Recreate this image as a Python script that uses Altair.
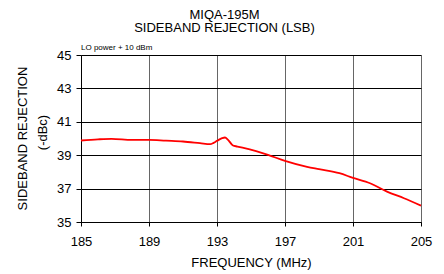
import altair as alt
import pandas as pd

freq = [185, 186, 186.8, 188, 189, 190, 191, 192, 192.6, 192.8, 193.0, 193.3, 193.47, 193.65, 193.94, 194.2,
        194.5, 195.3, 196, 197, 198.3, 199, 200.2, 201, 202, 203, 204, 205]
rej = [39.88, 39.95, 39.98, 39.92, 39.92, 39.87, 39.82, 39.72, 39.66, 39.74, 39.86, 40.02, 40.06, 39.92, 39.58, 39.52,
       39.45, 39.24, 39.02, 38.66, 38.3, 38.16, 37.92, 37.64, 37.32, 36.82, 36.42, 35.98]

x_ticks = [185, 189, 193, 197, 201, 205]
y_ticks = [35, 37, 39, 41, 43, 45]

title_lines = ["MIQA-195M", "SIDEBAND REJECTION (LSB)"]
note = "LO power + 10 dBm"
y_title_lines = ["SIDEBAND REJECTION", "(-dBc)"]
x_title = "FREQUENCY (MHz)"

FONT = "Liberation Sans"
df = pd.DataFrame({"freq": freq, "rej": rej})

line = alt.Chart(df).mark_line(color="#ff0000", strokeWidth=1.8, interpolate="monotone").encode(
    x=alt.X("freq:Q", scale=alt.Scale(domain=[185, 205], nice=False, zero=False),
            axis=alt.Axis(values=x_ticks, title=x_title, titleFont=FONT, titleFontSize=13,
                          titleFontWeight="normal", titleColor="black", titlePadding=8,
                          labelFont=FONT, labelFontSize=13, labelColor="black", labelPadding=9,
                          tickSize=4, tickColor="black", domainColor="black",
                          gridColor="#666666", gridWidth=1, labelFlush=False)),
    y=alt.Y("rej:Q", scale=alt.Scale(domain=[35, 45], nice=False, zero=False),
            axis=alt.Axis(values=y_ticks, title=None,
                          labelFont=FONT, labelFontSize=13, labelColor="black", labelPadding=5,
                          tickSize=5, tickColor="black", domainColor="black",
                          gridColor="black", gridWidth=1, labelFlush=False)),
)

one = alt.Data(values=[{"a": 1}])

def txt(s, x, y, size=13, angle=0):
    return alt.Chart(one).mark_text(font=FONT, fontSize=size, color="black", angle=angle,
                                    align="center", baseline="middle").encode(
        x=alt.value(x), y=alt.value(y), text=alt.value(s))

t1 = txt(title_lines[0], 143.5, -40.5)
t2 = txt(title_lines[1], 143.5, -27)
n1 = alt.Chart(one).mark_text(font=FONT, fontSize=8, color="black", align="left",
                              baseline="alphabetic").encode(
    x=alt.value(0), y=alt.value(-5.5), text=alt.value(note))
y1 = txt(y_title_lines[0], -58.5, 83.5, angle=270)
y2 = txt(y_title_lines[1], -38, 77.5, angle=270)

chart = alt.layer(line, t1, t2, n1, y1, y2).properties(
    width=340, height=167,
    autosize=alt.AutoSizeParams(type="none"),
    padding={"left": 73, "top": 47, "right": 15, "bottom": 50},
).configure_view(stroke="black", strokeWidth=1).configure(background="white")

chart.save("out.html", embed_options={"renderer": "svg", "actions": False})
